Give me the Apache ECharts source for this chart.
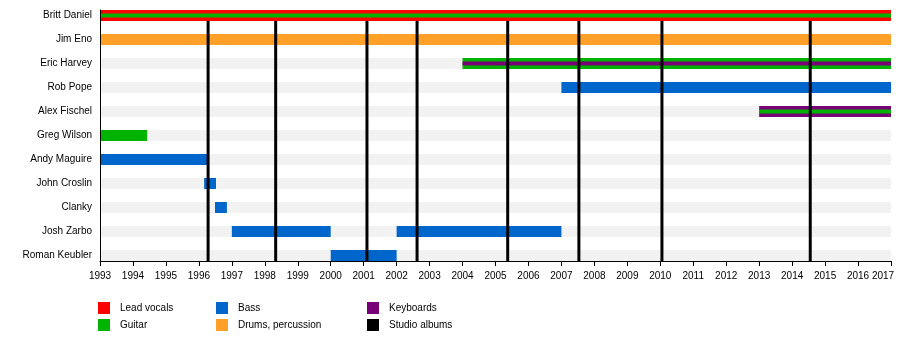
<!DOCTYPE html>
<html>
<head>
<meta charset="utf-8">
<script src="https://cdn.jsdelivr.net/npm/echarts@6/dist/echarts.min.js"></script>
<style>
  html, body { margin: 0; padding: 0; background: #fff; }
  #chart { width: 900px; height: 340px; }
</style>
</head>
<body>
<div id="chart"></div>
<script>
// Band members, top to bottom
const members = ['Britt Daniel', 'Jim Eno', 'Eric Harvey', 'Rob Pope', 'Alex Fischel',
  'Greg Wilson', 'Andy Maguire', 'John Croslin', 'Clanky', 'Josh Zarbo', 'Roman Keubler'];

// Tenure spans: member row, start, end, main role, optional inner stripe role
const spanMember = [0, 1, 2, 3, 4, 5, 6, 7, 8, 9, 9, 10];
const spanStart  = [1993, 1993, 2004, 2007, 2013, 1993, 1993, 1996.16, 1996.49, 1997, 2002, 2000];
const spanEnd    = [2017, 2017, 2017, 2017, 2017, 1994.43, 1996.25, 1996.52, 1996.85, 2000, 2007, 2002];
const spanRole   = ['vocals', 'drums', 'guitar', 'bass', 'keys', 'guitar', 'bass', 'bass', 'bass', 'bass', 'bass', 'bass'];
const spanStripe = ['guitar', null, 'keys', null, 'guitar', null, null, null, null, null, null, null];

// Studio album release dates (decimal years)
const albumDates = [1996.28, 1998.33, 2001.1, 2002.62, 2005.37, 2007.53, 2010.05, 2014.55];

// Timeline range
const yearMin = 1993;
const yearMax = 2017;

// Legend entries
const legendKeys   = ['vocals', 'guitar', 'bass', 'drums', 'keys', 'albums'];
const legendLabels = ['Lead vocals', 'Guitar', 'Bass', 'Drums, percussion', 'Keyboards', 'Studio albums'];

const roleColor = {
  vocals: '#ff0000',
  guitar: '#00b300',
  bass: '#0066cc',
  drums: '#ffa028',
  keys: '#770077',
  albums: '#000000'
};

const FONT = '"Liberation Sans", Arial, sans-serif';
const BAR = 11 / 24;          // bar thickness in row units
const STRIPE = 4 / 24;        // inner stripe thickness in row units

const chart = echarts.init(document.getElementById('chart'), null, { renderer: 'canvas' });

function rect(api, x0, x1, row, thick, color) {
  const p0 = api.coord([x0, row - thick / 2]);
  const p1 = api.coord([x1, row + thick / 2]);
  return {
    type: 'rect',
    shape: { x: p0[0], y: Math.min(p0[1], p1[1]), width: p1[0] - p0[0], height: Math.abs(p1[1] - p0[1]) },
    style: { fill: color }
  };
}

const bandData = members.map((m, i) => [i]);
const spanData = spanMember.map((r, i) => [spanStart[i], spanEnd[i], r, i]);
const albumData = albumDates.map(d => [d]);

// Legend graphics
const legendCols = [98, 216, 367];
const legendRows = [302, 319];
const legendGraphics = [];
legendKeys.forEach((k, i) => {
  const cx = legendCols[Math.floor(i / 2)];
  const cy = legendRows[i % 2];
  legendGraphics.push({
    type: 'rect', left: cx, top: cy,
    shape: { width: 12, height: 12 },
    style: { fill: roleColor[k] }
  });
  legendGraphics.push({
    type: 'text', left: cx + 22, top: cy + 1,
    style: { text: legendLabels[i], fill: '#000', font: '10px ' + FONT }
  });
});

chart.setOption({
  animation: false,
  backgroundColor: '#fff',
  grid: { left: 100, right: 9, top: 10, bottom: 79, containLabel: false, outerBoundsMode: 'none' },
  xAxis: {
    type: 'value', position: 'bottom', min: yearMin, max: yearMax, interval: 1, z: 10,
    axisLine: { show: true, onZero: false, lineStyle: { color: '#000', width: 1 } },
    axisTick: { show: true, inside: false, length: 5, lineStyle: { color: '#000' } },
    axisLabel: {
      color: '#000', fontFamily: FONT, fontSize: 10, margin: 10,
      showMinLabel: true, showMaxLabel: true,
      formatter: v => v === yearMax ? '{last|' + v + '}' : String(v),
      rich: { last: { fontFamily: FONT, fontSize: 10, color: '#000', padding: [0, 16, 0, 0] } }
    },
    splitLine: { show: false }
  },
  yAxis: {
    type: 'value', inverse: true, z: 10,
    min: -5.5 / 24, max: 10 + 5.5 / 24,
    axisLine: { show: true, onZero: false, lineStyle: { color: '#000', width: 1 } },
    axisTick: { show: false },
    axisLabel: {
      color: '#000', fontFamily: FONT, fontSize: 10, margin: 8,
      customValues: members.map((m, i) => i),
      formatter: v => members[Math.round(v)] || ''
    },
    splitLine: { show: false }
  },
  series: [
    {
      // background bands behind each member row
      type: 'custom', z: 1, silent: true,
      data: bandData,
      encode: { y: 0 },
      renderItem: (params, api) => rect(api, yearMin, yearMax, api.value(0), BAR, '#f2f2f2')
    },
    {
      type: 'custom', z: 2, silent: true,
      data: spanData,
      encode: { x: [0, 1], y: 2 },
      renderItem: (params, api) => {
        const i = api.value(3);
        const x0 = api.value(0), x1 = api.value(1), row = api.value(2);
        const children = [rect(api, x0, x1, row, BAR, roleColor[spanRole[i]])];
        if (spanStripe[i]) {
          children.push(rect(api, x0, x1, row, STRIPE, roleColor[spanStripe[i]]));
        }
        return { type: 'group', children };
      }
    },
    {
      // studio album release markers
      type: 'custom', z: 3, silent: true,
      data: albumData,
      encode: { x: 0 },
      renderItem: (params, api) => {
        const d = api.value(0);
        const top = api.coord([d, 0 + BAR / 2]);
        const bottom = api.coord([d, members.length - 1 + BAR / 2]);
        return {
          type: 'line',
          shape: { x1: top[0], y1: top[1], x2: bottom[0], y2: bottom[1] },
          style: { stroke: roleColor.albums, lineWidth: 3 }
        };
      }
    }
  ],
  graphic: legendGraphics
});
</script>
</body>
</html>
